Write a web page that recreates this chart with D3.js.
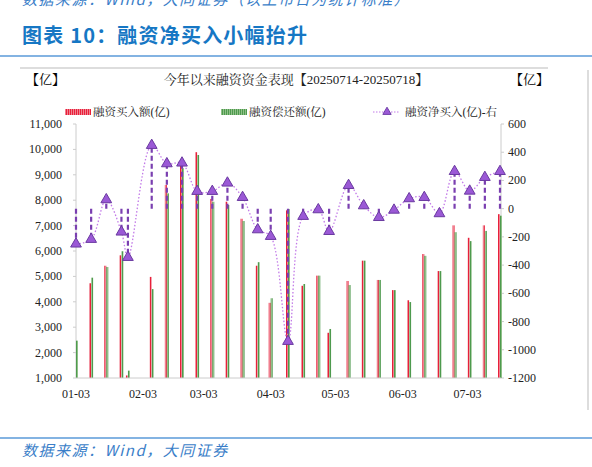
<!DOCTYPE html>
<html><head><meta charset="utf-8">
<script src="https://cdn.jsdelivr.net/npm/d3@7"></script>
<style>body{margin:0;background:#fff}</style></head>
<body><svg id="c" width="592" height="467"></svg>
<script>
const dates=["2025-01-03","2025-01-10","2025-01-17","2025-01-24","2025-01-27","2025-02-07","2025-02-14","2025-02-21","2025-02-28","2025-03-07","2025-03-14","2025-03-21","2025-03-28","2025-04-03","2025-04-11","2025-04-18","2025-04-25","2025-04-30","2025-05-09","2025-05-16","2025-05-23","2025-05-30","2025-06-06","2025-06-13","2025-06-20","2025-06-27","2025-07-04","2025-07-11","2025-07-18"];
const buy=[1000,4730,5420,5830,1100,4980,8600,9390,9890,8050,7940,7270,5420,3960,7600,4630,5030,2780,4820,5620,4860,4460,4060,5880,5210,7010,6520,7010,7450];
const repay=[2470,4950,5370,5990,1290,4500,8270,9260,9780,7940,7810,7180,5560,4140,7650,4700,5030,2930,4660,5620,4860,4460,3990,5810,5210,6740,6390,6790,7390];
const net=[-250,-217,64,-165,-345,449,319,324,123,123,182,80,-149,-196,-940,-54,-7,-161,165,21,-62,-10,71,80,-35,264,125,222,264];
const leftTicks=[1000,2000,3000,4000,5000,6000,7000,8000,9000,10000,11000];
const rightTicks=[-1200,-1000,-800,-600,-400,-200,0,200,400,600];
const xTicks=["2025-01-03","2025-02-03","2025-03-03","2025-04-03","2025-05-03","2025-06-03","2025-07-03"];

const p=d3.timeParse("%Y-%m-%d");
const svg=d3.select("#c");
const serif="'Liberation Serif','Noto Serif CJK SC','Noto Sans CJK SC',serif";
const cjk="'Noto Sans CJK SC',sans-serif";
const defs=svg.append("defs");
function pat(id,c1,c2){const pt=defs.append("pattern").attr("id",id).attr("width",2).attr("height",2).attr("patternUnits","userSpaceOnUse");
pt.append("rect").attr("width",2).attr("height",2).attr("fill",c2);pt.append("rect").attr("width",1).attr("height",2).attr("fill",c1);}
pat("pr","#e8203a","#f08090");pat("pg","#4e9a4e","#90c088");

// header
svg.append("text").attr("x",22).attr("y",5).attr("font-family",cjk).attr("font-style","italic").attr("font-size",15).attr("letter-spacing",1.5).attr("fill","#3a7ec8").text("数据来源：Wind，大同证券（以上市日为统计标准）");
svg.append("text").attr("x",22).attr("y",43).attr("font-family",cjk).attr("font-weight","bold").attr("font-size",20).attr("letter-spacing",1.2).attr("fill","#1677c4").text("图表 10：融资净买入小幅抬升");
svg.append("line").attr("x1",0).attr("x2",592).attr("y1",56).attr("y2",56).attr("stroke","#5a9ad8").attr("stroke-width",1.5);
svg.append("line").attr("x1",20).attr("x2",548).attr("y1",68).attr("y2",68).attr("stroke","#bbb");
svg.append("line").attr("x1",588).attr("x2",588).attr("y1",70).attr("y2",410).attr("stroke","#bbb");
svg.append("line").attr("x1",0).attr("x2",592).attr("y1",438).attr("y2",438).attr("stroke","#5a9ad8").attr("stroke-width",1.5);
svg.append("text").attr("x",22).attr("y",456).attr("font-family",cjk).attr("font-style","italic").attr("font-size",15).attr("letter-spacing",1.5).attr("fill","#3a7ec8").text("数据来源：Wind，大同证券");

svg.append("text").attr("x",296).attr("y",84).attr("text-anchor","middle").attr("font-family",serif).attr("font-size",13).attr("fill","#222").text("今年以来融资资金表现【20250714-20250718】");
svg.append("text").attr("x",26).attr("y",84).attr("font-family",serif).attr("font-size",13).text("【亿】");
svg.append("text").attr("x",510).attr("y",84).attr("font-family",serif).attr("font-size",13).text("【亿】");
// legend
const lg=svg.append("g").attr("font-family",serif).attr("font-size",11.5).attr("fill","#222");
lg.append("rect").attr("x",65).attr("y",109).attr("width",26).attr("height",6).attr("fill","url(#pr)");
lg.append("text").attr("x",93).attr("y",116).text("融资买入额(亿)");
lg.append("rect").attr("x",221).attr("y",109).attr("width",26).attr("height",6).attr("fill","url(#pg)");
lg.append("text").attr("x",249).attr("y",116).text("融资偿还额(亿)");
lg.append("line").attr("x1",373).attr("x2",400).attr("y1",112).attr("y2",112).attr("stroke","#c27ae8").attr("stroke-dasharray","1.5,1.5");
lg.append("path").attr("d",d3.symbol(d3.symbolTriangle,30)()).attr("transform","translate(387,112)").attr("fill","#9b59d6").attr("stroke","#7040a8");
lg.append("text").attr("x",405).attr("y",116).text("融资净买入(亿)-右");

const x=d3.scaleTime().domain([p("2025-01-03"),p("2025-07-18")]).range([76,500]);
const yl=d3.scaleLinear().domain([1000,11000]).range([378,124]);
const yr=d3.scaleLinear().domain([-1200,600]).range([378,124]);

const ax=svg.append("g").attr("font-family",serif).attr("font-size",12).attr("fill","#222");
leftTicks.forEach(v=>{ax.append("text").attr("x",62).attr("y",yl(v)+4).attr("text-anchor","end").text(d3.format(",")(v));
 svg.append("line").attr("x1",73).attr("x2",76).attr("y1",yl(v)).attr("y2",yl(v)).attr("stroke","#ccc");});
rightTicks.forEach(v=>{ax.append("text").attr("x",508).attr("y",yr(v)+4).text(v);
 svg.append("line").attr("x1",501).attr("x2",504).attr("y1",yr(v)).attr("y2",yr(v)).attr("stroke","#ccc");});
const xf=d3.timeFormat("%m-%d");
xTicks.forEach(d=>ax.append("text").attr("x",x(p(d))).attr("y",398).attr("text-anchor","middle").text(xf(p(d))));
svg.append("line").attr("x1",76).attr("x2",76).attr("y1",124).attr("y2",378).attr("stroke","#ccc");
svg.append("line").attr("x1",501).attr("x2",501).attr("y1",124).attr("y2",378).attr("stroke","#ccc");

const g=svg.append("g");
dates.forEach((d,i)=>{const cx=x(p(d));
 g.append("rect").attr("x",cx-2).attr("width",2).attr("y",yl(buy[i])).attr("height",yl(1000)-yl(buy[i])).attr("fill","url(#pr)");
 g.append("rect").attr("x",cx).attr("width",2).attr("y",yl(repay[i])).attr("height",yl(1000)-yl(repay[i])).attr("fill","url(#pg)");
});
svg.append("line").attr("x1",76).attr("x2",501).attr("y1",378).attr("y2",378).attr("stroke","#ccc");
dates.forEach((d,i)=>{const cx=x(p(d));
 g.append("line").attr("x1",cx).attr("x2",cx).attr("y1",yr(0)).attr("y2",yr(net[i])).attr("stroke","#7a3fb0").attr("stroke-width",2.2).attr("stroke-dasharray","5,3");});
const line=d3.line().x((v,i)=>x(p(dates[i]))).y(v=>yr(v)).curve(d3.curveCatmullRom);
g.append("path").attr("d",line(net)).attr("fill","none").attr("stroke","#c27ae8").attr("stroke-width",1.3).attr("stroke-dasharray","1.5,2");
net.forEach((v,i)=>g.append("path").attr("d",d3.symbol(d3.symbolTriangle,50)()).attr("transform",`translate(${x(p(dates[i]))},${yr(v)})`).attr("fill","#9b59d6").attr("stroke","#6a3aa0"));
</script></body></html>
